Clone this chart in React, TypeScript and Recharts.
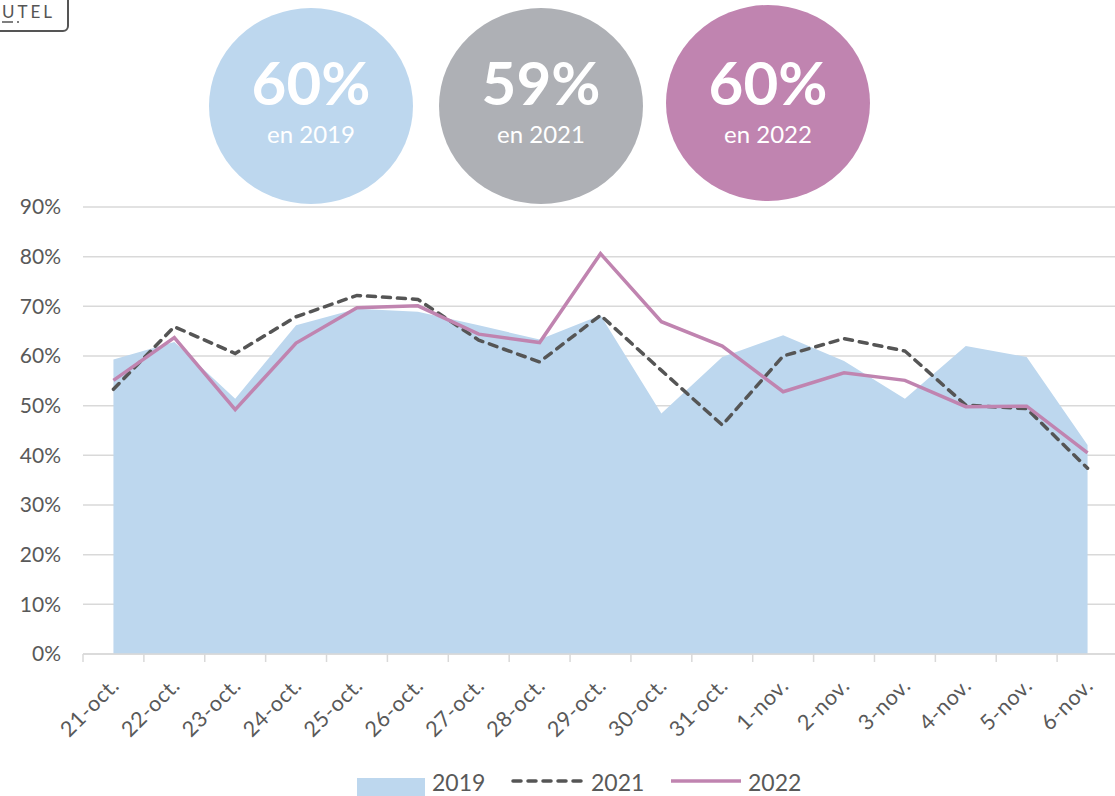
import React from 'react';
import { ComposedChart, Area, Line, XAxis, YAxis, CartesianGrid, Legend } from 'recharts';

const categories = ['21-oct.', '22-oct.', '23-oct.', '24-oct.', '25-oct.', '26-oct.', '27-oct.', '28-oct.', '29-oct.', '30-oct.', '31-oct.', '1-nov.', '2-nov.', '3-nov.', '4-nov.', '5-nov.', '6-nov.'];
const values2019 = [59.3, 62.8, 51.4, 66.2, 69.5, 68.9, 66.2, 63.3, 68.2, 48.4, 59.8, 64.2, 59.0, 51.4, 62.0, 59.8, 42.1];
const values2021 = [53.3, 65.9, 60.5, 67.9, 72.2, 71.4, 63.2, 58.8, 68.2, 57.1, 46.1, 60.0, 63.5, 61.0, 50.1, 49.4, 37.4];
const values2022 = [55.1, 63.7, 49.2, 62.6, 69.7, 70.1, 64.4, 62.7, 80.6, 66.9, 62.0, 52.8, 56.6, 55.1, 49.8, 49.9, 40.5];
const yTicks = [0, 10, 20, 30, 40, 50, 60, 70, 80, 90];
const seriesNames = ['2019', '2021', '2022'];
const summaryValues = ['60%', '59%', '60%'];
const summaryLabels = ['en 2019', 'en 2021', 'en 2022'];

const data = categories.map((c, i) => ({
  cat: c,
  y2019: values2019[i],
  y2021: values2021[i],
  y2022: values2022[i],
}));

const FONT = 'Lato, "DejaVu Sans", sans-serif';
const TEXT = '#595959';
const GRID = '#D9D9D9';
const BLUE = '#BDD7EE';
const GRAY = '#AEB0B5';
const PINK = '#C084B0';
const DASH = '#555555';

const XTick = (props: any) => {
  const { x, y, payload, index } = props;
  const half = payload && payload.offset ? payload.offset : 30.44;
  const last = index === categories.length - 1;
  const tx = x + 7;
  const ty = y + 33;
  return (
    <g>
      <line x1={x - half} x2={x - half} y1={y} y2={y + 8} stroke={GRID} strokeWidth={1.5} />
      {last && <line x1={x + half} x2={x + half} y1={y} y2={y + 8} stroke={GRID} strokeWidth={1.5} />}
      <text x={tx} y={ty} textAnchor="end" transform={`rotate(-45 ${tx} ${ty})`} fill={TEXT} fontSize={21.5} fontFamily={FONT} letterSpacing={0.6}>
        {payload.value}
      </text>
    </g>
  );
};

const renderLegend = () => (
  <div style={{ position: 'relative', width: 1115, height: 40, fontFamily: FONT, color: TEXT, fontSize: 23 }}>
    <div style={{ position: 'absolute', left: 357, top: 12, width: 68, height: 20, background: BLUE }} />
    <span style={{ position: 'absolute', left: 432, top: 2, lineHeight: '28px' }}>{seriesNames[0]}</span>
    <svg style={{ position: 'absolute', left: 510, top: 9 }} width={76} height={12}>
      <line x1={3} x2={73} y1={6} y2={6} stroke={DASH} strokeWidth={3.5} strokeDasharray="8 7" strokeLinecap="round" />
    </svg>
    <span style={{ position: 'absolute', left: 591, top: 2, lineHeight: '28px' }}>{seriesNames[1]}</span>
    <svg style={{ position: 'absolute', left: 669, top: 9 }} width={74} height={12}>
      <line x1={2} x2={72} y1={6} y2={6} stroke={PINK} strokeWidth={3.5} />
    </svg>
    <span style={{ position: 'absolute', left: 748, top: 2, lineHeight: '28px' }}>{seriesNames[2]}</span>
  </div>
);

const circles = [
  { cx: 311, cy: 106, rx: 102, ry: 98, fill: BLUE },
  { cx: 541, cy: 106, rx: 102, ry: 98, fill: GRAY },
  { cx: 768, cy: 103, rx: 102, ry: 98, fill: PINK },
];

export default function App() {
  return (
    <div style={{ position: 'absolute', left: 0, top: 0, width: 1115, height: 796, overflow: 'hidden', background: '#fff', fontFamily: FONT }}>
      <ComposedChart
        width={1120}
        height={806}
        data={data}
        margin={{ top: 207, right: 2, bottom: 0, left: 0 }}
      >
        <CartesianGrid horizontal vertical={false} stroke={GRID} strokeWidth={1.5} />
        <XAxis
          dataKey="cat"
          scale="band"
          interval={0}
          tickLine={false}
          tickSize={0}
          tickMargin={0}
          axisLine={{ stroke: GRID, strokeWidth: 1.5 }}
          tick={<XTick />}
          height={112}
        />
        <YAxis
          domain={[0, 90]}
          ticks={yTicks}
          tickFormatter={(v: number) => `${v}%`}
          tickLine={false}
          axisLine={false}
          tickSize={0}
          tickMargin={22}
          width={83}
          tick={{ fill: TEXT, fontSize: 21, fontFamily: FONT }}
        />
        <Area type="linear" dataKey="y2019" name={seriesNames[0]} fill={BLUE} fillOpacity={1} stroke="none" isAnimationActive={false} />
        <Line type="linear" dataKey="y2021" name={seriesNames[1]} stroke={DASH} strokeWidth={3.5} strokeDasharray="8 7" strokeLinecap="round" dot={false} activeDot={false} isAnimationActive={false} />
        <Line type="linear" dataKey="y2022" name={seriesNames[2]} stroke={PINK} strokeWidth={3.5} dot={false} activeDot={false} isAnimationActive={false} />
        <Legend verticalAlign="bottom" content={renderLegend} wrapperStyle={{ position: 'absolute', left: 0, top: 766, width: 1115, height: 40 }} />
      </ComposedChart>
      <svg style={{ position: 'absolute', left: 0, top: 0 }} width={1115} height={210}>
        <rect x={-20} y={-20} width={88} height={51} rx={5} fill="none" stroke="#555" strokeWidth={2} />
        <text x={2} y={18} fill="#555" fontSize={17} fontFamily={FONT} letterSpacing={3}>UTEL</text>
        <line x1={2} x2={13} y1={22} y2={22} stroke="#555" strokeWidth={1.5} />
        <circle cx={18} cy={22} r={1} fill="#555" />
        {circles.map((c, i) => (
          <g key={i}>
            <ellipse cx={c.cx} cy={c.cy} rx={c.rx} ry={c.ry} fill={c.fill} />
            <text x={c.cx} y={105} textAnchor="middle" fill="#fff" fontSize={60} fontWeight={700} fontFamily={FONT}>
              {summaryValues[i]}
            </text>
            <text x={c.cx} y={143} textAnchor="middle" fill="#fff" fontSize={24} fontFamily={FONT}>
              {summaryLabels[i]}
            </text>
          </g>
        ))}
      </svg>
    </div>
  );
}
